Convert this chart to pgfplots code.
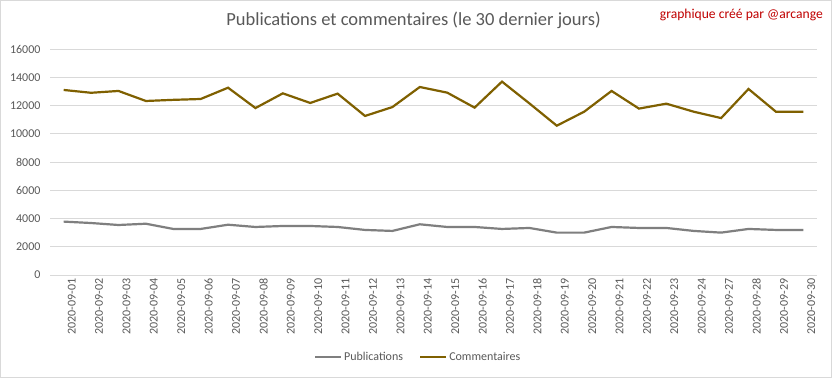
\documentclass[border=0pt]{standalone}
\usepackage{pgfplots}
\pgfplotsset{compat=1.18}
\usepackage{fontspec}
\setmainfont{Carlito}
\definecolor{txtgray}{HTML}{595959}
\definecolor{gridgray}{HTML}{D9D9D9}
\definecolor{pubgray}{HTML}{7F7F7F}
\definecolor{comgold}{HTML}{7F6000}
\definecolor{credred}{HTML}{C00000}
\pgfplotsset{legend image code/.code={\draw[#1] (0bp,0bp) -- (26bp,0bp);}}
\begin{document}
\begin{tikzpicture}
\useasboundingbox (0,0) rectangle (832bp,378bp);
\fill[white] (0,0) rectangle (832bp,378bp);
\draw[gridgray, line width=1bp] (0.5bp,0.5bp) rectangle (831.5bp,377.5bp);
\node[anchor=center, text=txtgray, font=\fontsize{18.5bp}{22bp}\selectfont, inner sep=0pt] at (413.5bp,358bp) {Publications et commentaires (le 30 dernier jours)};
\node[anchor=east, text=credred, font=\fontsize{13.6bp}{16bp}\selectfont, inner sep=0pt] at (823bp,363bp) {graphique créé par @arcange};
\begin{axis}[
  at={(50bp,103bp)}, anchor=south west,
  scale only axis, width=767bp, height=226bp,
  xmin=-0.5, xmax=27.5, ymin=0, ymax=16000,
  ytick={0,2000,...,16000},
  scaled y ticks=false,
  xtick={0,...,27},
  xticklabels={2020-09-01,2020-09-02,2020-09-03,2020-09-04,2020-09-05,2020-09-06,2020-09-07,2020-09-08,2020-09-09,2020-09-10,2020-09-11,2020-09-12,2020-09-13,2020-09-14,2020-09-15,2020-09-16,2020-09-17,2020-09-18,2020-09-19,2020-09-20,2020-09-21,2020-09-22,2020-09-23,2020-09-24,2020-09-27,2020-09-28,2020-09-29,2020-09-30},
  axis line style={draw=none},
  major tick length=0pt,
  ymajorgrids, major grid style={gridgray, line width=0.9bp},
  /pgf/number format/assume math mode=true,
  /pgf/number format/1000 sep={},
  yticklabel={\pgfmathprintnumber[fixed,precision=0,1000 sep={}]{\tick}},
  tick label style={text=txtgray, font=\fontsize{12bp}{14bp}\selectfont},
  yticklabel style={anchor=east, xshift=-6bp},
  xticklabel style={rotate=90, anchor=east, yshift=-8bp},
  legend columns=2,
  legend style={at={(0.48,-0.363)}, anchor=center, draw=none, fill=none,
    font=\fontsize{12bp}{14bp}\selectfont, text=txtgray,
    /tikz/every even column/.append style={column sep=14bp}},
  clip=false,
]
\addplot[pubgray, line width=2.2bp] coordinates {
(0,3780)(1,3680)(2,3540)(3,3630)(4,3260)(5,3260)(6,3560)(7,3400)(8,3470)(9,3470)
(10,3400)(11,3190)(12,3120)(13,3590)(14,3400)(15,3400)(16,3260)(17,3330)(18,3000)(19,3000)
(20,3400)(21,3330)(22,3330)(23,3120)(24,3000)(25,3260)(26,3190)(27,3190)};
\addlegendentry{Publications}
\addplot[comgold, line width=2.2bp] coordinates {
(0,13100)(1,12900)(2,13030)(3,12320)(4,12400)(5,12460)(6,13260)(7,11820)(8,12860)(9,12180)
(10,12840)(11,11260)(12,11890)(13,13310)(14,12910)(15,11850)(16,13690)(17,12150)(18,10570)(19,11560)
(20,13030)(21,11780)(22,12130)(23,11560)(24,11110)(25,13170)(26,11560)(27,11560)};
\addlegendentry{Commentaires}
\end{axis}
\end{tikzpicture}
\end{document}
